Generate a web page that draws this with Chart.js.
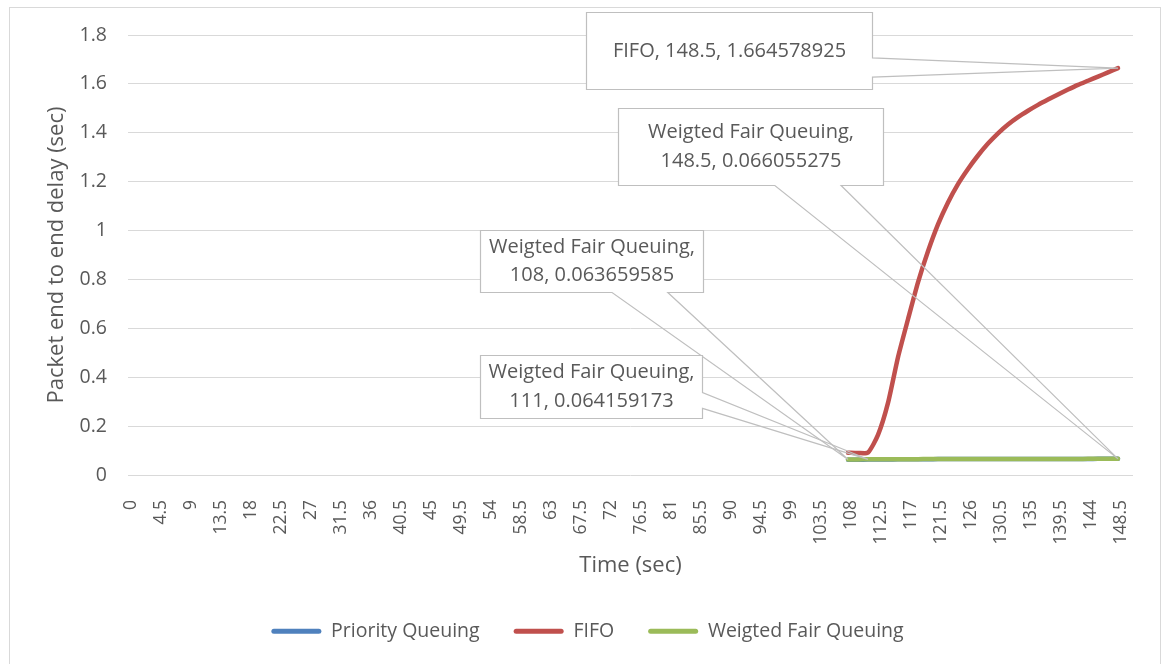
<!DOCTYPE html>
<html>
<head>
<meta charset="utf-8">
<script src="https://cdn.jsdelivr.net/npm/chart.js@4"></script>
<style>
    html, body { margin: 0; padding: 0; background: #fff; }
    #wrap { position: relative; width: 1165px; height: 664px; }
</style>
</head>
<body>
<div id="wrap"><canvas id="delayChart"></canvas></div>
<script>
// ─── Data ──────────────────────────────────

const seriesNames = ['Priority Queuing', 'FIFO', 'Weigted Fair Queuing'];

const times = [108, 109.5, 111, 112.5, 114, 115.5, 117, 118.5, 120, 121.5, 123, 124.5, 126, 127.5,
               129, 130.5, 132, 133.5, 135, 136.5, 138, 139.5, 141, 142.5, 144, 145.5, 147, 148.5];

const priorityDelay = [0.0621, 0.0625, 0.0629, 0.0633, 0.0637, 0.0641, 0.0644, 0.0646, 0.0648, 0.0650,
                       0.0651, 0.0652, 0.0653, 0.0654, 0.0655, 0.0655, 0.0656, 0.0656, 0.0657, 0.0657,
                       0.0658, 0.0658, 0.0659, 0.0659, 0.0659, 0.0660, 0.0660, 0.0660];

const fifoDelay = [0.091, 0.090, 0.092, 0.164, 0.295, 0.482, 0.637, 0.788, 0.915, 1.025,
                   1.115, 1.190, 1.252, 1.307, 1.356, 1.398, 1.434, 1.464, 1.490, 1.514,
                   1.536, 1.557, 1.577, 1.596, 1.613, 1.630, 1.647, 1.664578925];

const wfqDelay = [0.063659585, 0.0639, 0.064159173, 0.0643, 0.0645, 0.0646, 0.0648, 0.0649, 0.0650, 0.0651,
                  0.0652, 0.0653, 0.0654, 0.0655, 0.0655, 0.0656, 0.0656, 0.0657, 0.0657, 0.0658,
                  0.0658, 0.0659, 0.0659, 0.0659, 0.0660, 0.0660, 0.0660, 0.066055275];

const xTickLabels = [0, 4.5, 9, 13.5, 18, 22.5, 27, 31.5, 36, 40.5, 45, 49.5, 54, 58.5, 63, 67.5, 72,
                     76.5, 81, 85.5, 90, 94.5, 99, 103.5, 108, 112.5, 117, 121.5, 126, 130.5, 135,
                     139.5, 144, 148.5];

// ─── Callout layout (box offset from the point it labels) ───

const callouts = [
    { series: 1, time: 148.5, dx: -389,   dy: -18,    w: 286, h: 77, side: 'right',  wrap: false },
    { series: 2, time: 148.5, dx: -367.5, dy: -312,   w: 265, h: 77, side: 'bottom', wrap: true  },
    { series: 2, time: 108,   dx: -256.5, dy: -198.5, w: 223, h: 62, side: 'bottom', wrap: true  },
    { series: 2, time: 111,   dx: -277,   dy: -73,    w: 222, h: 63, side: 'right',  wrap: true  }
];

const TEXT  = '#595959';
const GRID  = '#d9d9d9';
const FONT  = "'Open Sans', sans-serif";

Chart.defaults.font.family = FONT;
Chart.defaults.color = TEXT;

const toPoints = arr => times.map((t, i) => ({ x: t, y: arr[i] }));

// ─── Plugins ───────────────────────────────

const frame = {
    id: 'frame',
    beforeDraw(chart) {
        const ctx = chart.ctx;
        ctx.save();
        ctx.strokeStyle = GRID;
        ctx.lineWidth = 1;
        ctx.strokeRect(9.5, 7.5, 1151, 670);
        ctx.restore();
    }
};

const calloutLabels = {
    id: 'calloutLabels',
    afterDatasetsDraw(chart) {
        const { ctx, scales: { x, y } } = chart;
        ctx.save();
        ctx.font = `20px ${FONT}`;
        ctx.textAlign = 'center';
        ctx.textBaseline = 'middle';

        callouts.forEach(c => {
            const ds    = chart.data.datasets[c.series];
            const value = ds.data[times.indexOf(c.time)].y;
            const px = x.getPixelForValue(c.time);
            const py = y.getPixelForValue(value);
            const l = Math.round(px + c.dx - c.w / 2) + 0.5;
            const t = Math.round(py + c.dy - c.h / 2) + 0.5;
            const r = l + c.w, b = t + c.h;

            let pts;
            if (c.side === 'right') {
                pts = [[l, t], [r, t], [r, t + c.h * 0.59], [px, py], [r, t + c.h * 0.84], [r, b], [l, b]];
            } else {
                pts = [[l, t], [r, t], [r, b], [l + c.w * 0.84, b], [px, py], [l + c.w * 0.59, b], [l, b]];
            }

            ctx.fillStyle = '#fff';
            ctx.fillRect(l, t, c.w, c.h);
            ctx.beginPath();
            pts.forEach(([px2, py2], i) => i ? ctx.lineTo(px2, py2) : ctx.moveTo(px2, py2));
            ctx.closePath();
            ctx.strokeStyle = '#bfbfbf';
            ctx.lineWidth = 1.2;
            ctx.stroke();

            const lines = c.wrap
                ? [`${ds.label},`, `${c.time}, ${value}`]
                : [`${ds.label}, ${c.time}, ${value}`];
            const cx = l + c.w / 2, cy = t + c.h / 2;
            ctx.fillStyle = TEXT;
            lines.forEach((txt, i) => {
                ctx.fillText(txt, cx, cy + (i - (lines.length - 1) / 2) * 28.5);
            });
        });
        ctx.restore();
    }
};

// ─── Chart ─────────────────────────────────

const lineStyle = { borderWidth: 4.5, pointRadius: 0, tension: 0.2, fill: false, borderCapStyle: 'round', borderJoinStyle: 'round' };

new Chart(document.getElementById('delayChart').getContext('2d'), {
    type: 'line',
    data: {
        datasets: [
            { label: seriesNames[0], data: toPoints(priorityDelay), borderColor: '#4f81bd', backgroundColor: '#4f81bd', order: 3, ...lineStyle },
            { label: seriesNames[1], data: toPoints(fifoDelay),     borderColor: '#c0504d', backgroundColor: '#c0504d', order: 2, ...lineStyle },
            { label: seriesNames[2], data: toPoints(wfqDelay),      borderColor: '#9bbb59', backgroundColor: '#9bbb59', order: 1, ...lineStyle }
        ]
    },
    options: {
        responsive: true,
        maintainAspectRatio: false,
        animation: false,
        layout: { padding: { left: 10, right: 0, top: 35, bottom: 13 } },
        plugins: {
            tooltip: { enabled: false },
            legend: {
                position: 'bottom',
                labels: {
                    boxWidth: 50,
                    boxHeight: 5,
                    padding: 34,
                    useBorderRadius: true,
                    borderRadius: 2.5,
                    font: { size: 19.5 },
                    color: TEXT,
                    generateLabels: chart => chart.data.datasets.map((ds, i) => ({
                        text: ds.label,
                        fillStyle: ds.borderColor,
                        strokeStyle: ds.borderColor,
                        lineWidth: 0,
                        borderRadius: 2.5,
                        hidden: false,
                        datasetIndex: i,
                        fontColor: TEXT
                    }))
                }
            }
        },
        scales: {
            x: {
                type: 'linear',
                min: 0,
                max: 150.75,
                grid: { display: false },
                border: { display: false },
                afterBuildTicks: s => { s.ticks = xTickLabels.map(v => ({ value: v })); },
                afterFit: s => { s.height = 112.5; },
                ticks: {
                    autoSkip: false,
                    minRotation: 90,
                    maxRotation: 90,
                    padding: 17,
                    labelOffset: 3,
                    font: { size: 17.5 },
                    callback: v => String(v)
                },
                title: { display: true, text: 'Time (sec)', font: { size: 22 }, padding: { top: 0, bottom: 9 } }
            },
            y: {
                min: 0,
                max: 1.8,
                grid: { color: GRID, lineWidth: 1, drawTicks: false },
                border: { display: false },
                afterFit: s => { s.width = 118; },
                ticks: {
                    stepSize: 0.2,
                    padding: 21,
                    font: { size: 19.5 },
                    callback: v => String(+v.toFixed(1))
                },
                title: { display: true, text: 'Packet end to end delay (sec)', font: { size: 22 }, padding: { top: 34, bottom: 0 } }
            },
            // empty right-hand gutter so the plot ends where the original does
            gutter: {
                position: 'right',
                display: true,
                grid: { display: false },
                border: { display: false },
                ticks: { display: false },
                afterFit: s => { s.width = 32; }
            }
        }
    },
    plugins: [frame, calloutLabels]
});
</script>
</body>
</html>
